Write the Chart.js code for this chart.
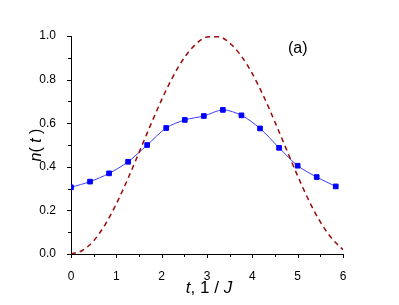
<!DOCTYPE html>
<html><head><meta charset="utf-8">
<script src="https://cdn.jsdelivr.net/npm/chart.js@4"></script>
<style>html,body{margin:0;padding:0;background:#fff}#w{width:399px;height:305px}</style>
</head><body><div id="w"><canvas id="c" width="399" height="305"></canvas></div>
<script>
// Blue markers series n(t)
const tPoints = [0.00,0.42,0.84,1.26,1.68,2.10,2.51,2.93,3.35,3.76,4.17,4.59,5.00,5.42,5.84];
const nPoints = [0.306,0.332,0.370,0.423,0.500,0.578,0.615,0.633,0.661,0.636,0.576,0.487,0.405,0.353,0.310];
// Dashed red curve
const tCurve = [0,0.25,0.5,0.75,1,1.25,1.5,1.75,2,2.25,2.5,2.75,3,3.25,3.5,3.75,4,4.25,4.5,4.75,5,5.25,5.5,5.75,6];
const nCurve = [0,0.016,0.061,0.134,0.230,0.343,0.465,0.589,0.708,0.814,0.901,0.962,0.995,0.997,0.968,0.910,0.827,0.723,0.605,0.481,0.358,0.244,0.147,0.072,0.020];
const xTicks = [0,1,2,3,4,5,6];
const yTicks = [0.0,0.2,0.4,0.6,0.8,1.0];

const FONT = '"Liberation Sans", Arial, sans-serif';

const decor = {
  id: 'decor',
  afterDraw(chart) {
    const ctx = chart.ctx, xs = chart.scales.x, ys = chart.scales.y;
    ctx.save();
    ctx.strokeStyle = '#000'; ctx.lineWidth = 1;
    for (let i = 0; i <= 10; i++) {
      const y = Math.round(ys.getPixelForValue(i / 10)) + 0.5;
      const len = (i % 2 === 0) ? 4 : 3;
      ctx.beginPath(); ctx.moveTo(xs.left - len, y); ctx.lineTo(xs.left, y); ctx.stroke();
    }
    for (let i = 0; i <= 12; i++) {
      const x = Math.round(xs.getPixelForValue(i / 2)) + 0.5;
      const len = (i % 2 === 0) ? 4 : 3;
      ctx.beginPath(); ctx.moveTo(x, ys.bottom); ctx.lineTo(x, ys.bottom + len); ctx.stroke();
    }
    ctx.fillStyle = '#000';
    const parts = [['t', 'italic'], [', 1 / ', 'normal'], ['J', 'italic']];
    ctx.textBaseline = 'alphabetic';
    let total = 0;
    parts.forEach(p => { ctx.font = p[1] + ' 17px ' + FONT; total += ctx.measureText(p[0]).width; });
    let x0 = 209 - total / 2;
    parts.forEach(p => { ctx.font = p[1] + ' 17px ' + FONT; ctx.textAlign = 'left'; ctx.fillText(p[0], x0, 293); x0 += ctx.measureText(p[0]).width; });
    ctx.save();
    ctx.translate(41, 145); ctx.rotate(-Math.PI / 2);
    const yparts = [['n', 'italic'], ['( ', 'normal'], ['t', 'italic'], [' )', 'normal']];
    total = 0;
    yparts.forEach(p => { ctx.font = p[1] + ' 16px ' + FONT; total += ctx.measureText(p[0]).width; });
    let y0 = -total / 2;
    yparts.forEach(p => { ctx.font = p[1] + ' 16px ' + FONT; ctx.textAlign = 'left'; ctx.fillText(p[0], y0, 0); y0 += ctx.measureText(p[0]).width; });
    ctx.restore();
    ctx.font = '16px ' + FONT; ctx.textAlign = 'left';
    ctx.fillText('(a)', 288, 53);
    ctx.restore();
  }
};

new Chart(document.getElementById('c'), {
  type: 'scatter',
  data: {
    datasets: [
      {
        data: tCurve.map((t, i) => ({x: t, y: nCurve[i]})),
        showLine: true, borderColor: '#9a0a0a', borderWidth: 1.5, borderDash: [5, 4],
        pointRadius: 0, cubicInterpolationMode: 'monotone'
      },
      {
        data: tPoints.map((t, i) => ({x: t, y: nPoints[i]})),
        showLine: true, borderColor: '#3c3cff', borderWidth: 1,
        pointStyle: 'rect', pointRadius: 3.3, pointBackgroundColor: '#0000ff', pointBorderColor: '#0000ff',
        tension: 0.3
      }
    ]
  },
  options: {
    responsive: false, animation: false, devicePixelRatio: 1,
    layout: {padding: {left: 0, top: 36, right: 56, bottom: 0}},
    plugins: {legend: {display: false}, tooltip: {enabled: false}},
    scales: {
      x: {
        type: 'linear', min: 0, max: 6,
        afterFit: s => { s.height = 51; },
        afterBuildTicks: s => { s.ticks = xTicks.map(v => ({value: v})); },
        grid: {display: false},
        border: {display: true, color: '#000', width: 1},
        ticks: {padding: 7, color: '#000', font: {family: FONT, size: 12}, callback: v => String(v), maxRotation: 0}
      },
      y: {
        min: 0, max: 1,
        afterFit: s => { s.width = 71; },
        afterBuildTicks: s => { s.ticks = yTicks.map(v => ({value: v})); },
        grid: {display: false},
        border: {display: true, color: '#000', width: 1},
        ticks: {padding: 7, color: '#000', font: {family: FONT, size: 12}, callback: v => v.toFixed(1)}
      }
    }
  },
  plugins: [decor]
});
</script></body></html>
